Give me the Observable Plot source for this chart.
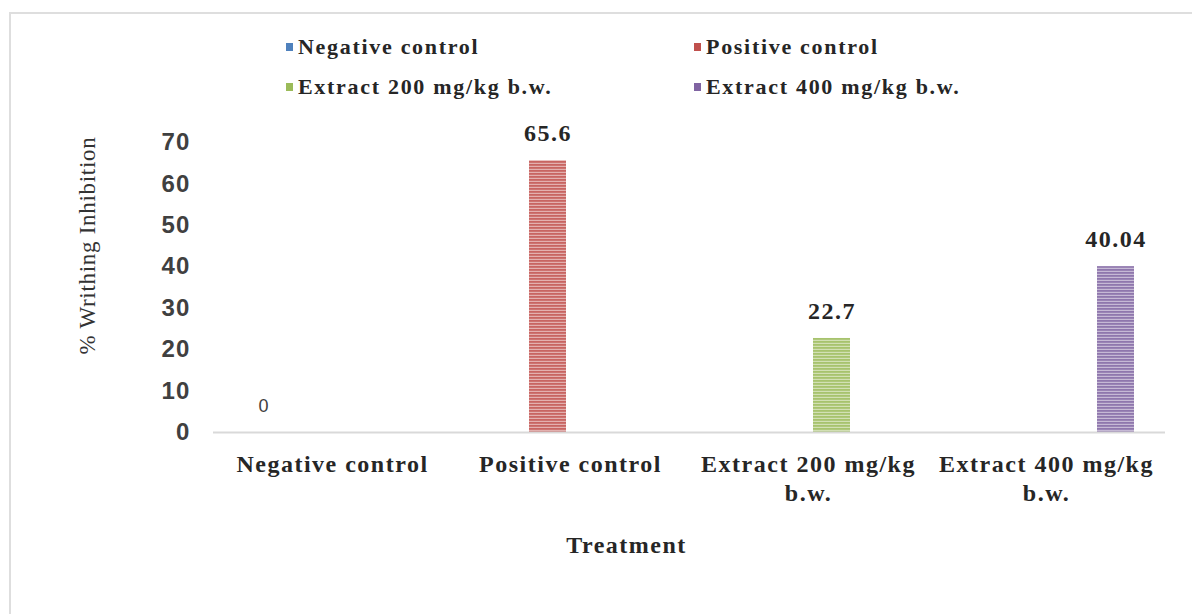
<!DOCTYPE html>
<html>
<head>
<meta charset="utf-8">
<script src="https://cdn.jsdelivr.net/npm/d3@7"></script>
<script src="https://cdn.jsdelivr.net/npm/@observablehq/plot@0.6"></script>
<style>
  html, body { margin: 0; padding: 0; background: #fff; }
  body { width: 1192px; height: 614px; position: relative; overflow: hidden; }
  .frame { position: absolute; left: 9px; top: 12px; width: 1250px; height: 700px;
           border-top: 2px solid #dedede; border-left: 2px solid #dedede; }
  .legend { position: absolute; left: 0; top: 0; width: 1192px; height: 110px;
            font-family: "Liberation Serif", "Times New Roman", serif; font-weight: bold;
            font-size: 22px; letter-spacing: 1.7px; color: #262626; }
  .legend .item { position: absolute; display: flex; align-items: center; white-space: nowrap; height: 24px; }
  .legend .sw { width: 7px; height: 8px; margin-right: 5px; flex: none; }
  #chart { position: absolute; left: 0; top: 110px; }
</style>
</head>
<body>
<div class="frame"></div>
<div class="legend" id="legend"></div>
<div id="chart"></div>
<script>
// Treatments, one bar each
const treatments = ["Negative control", "Positive control", "Extract 200 mg/kg b.w.", "Extract 400 mg/kg b.w."];
// % writhing inhibition per treatment
const inhibition = [0, 65.6, 22.7, 40.04];
// Category tick labels (wrapped)
const tickLabels = ["Negative control", "Positive control", "Extract 200 mg/kg\nb.w.", "Extract 400 mg/kg\nb.w."];
// Y axis ticks
const yTicks = [0, 10, 20, 30, 40, 50, 60, 70];
// Series colours
const seriesColors = ["#4f81bd", "#c0504d", "#9bbb59", "#8064a2"];

const rows = treatments.map((t, i) => ({treatment: t, series: t, value: inhibition[i]}));
const patternIds = seriesColors.map((c, i) => `stripes-${i}`);

// Legend (two columns, two rows)
const legendPos = [[286, 35], [694, 35], [286, 75], [694, 75]];
const legend = document.getElementById("legend");
treatments.forEach((t, i) => {
  const item = document.createElement("div");
  item.className = "item";
  item.style.left = legendPos[i][0] + "px";
  item.style.top = legendPos[i][1] + "px";
  const sw = document.createElement("span");
  sw.className = "sw";
  sw.style.background = seriesColors[i];
  item.appendChild(sw);
  item.appendChild(document.createTextNode(t));
  legend.appendChild(item);
});

const serif = "Liberation Serif, Times New Roman, serif";
const sans = "Liberation Sans, Arial, sans-serif";

const chart = Plot.plot({
  width: 1192,
  height: 504,
  marginLeft: 213,
  marginRight: 27,
  marginTop: 32,
  marginBottom: 182,
  fx: {domain: treatments, padding: 0, axis: null},
  x: {domain: treatments, paddingInner: 0.2, paddingOuter: 0.66, axis: null},
  y: {domain: [0, 70], axis: null},
  color: {type: "ordinal", domain: treatments, range: patternIds.map(id => `url(#${id})`)},
  marks: [
    Plot.barY(rows, {fx: "treatment", x: "series", y: "value", fill: "series"}),
    // baseline, repeated in each facet so it runs across the whole frame
    Plot.ruleY([0], {stroke: "#d9d9d9", strokeWidth: 2}),
    Plot.axisY({
      ticks: yTicks, tickSize: 0, tickPadding: 23, label: null,
      fontFamily: sans, fontSize: 24, fontWeight: "bold", fill: "#404040"
    }),
    Plot.axisFx({
      anchor: "bottom", tickSize: 0, tickPadding: 19, label: null,
      tickFormat: d => tickLabels[treatments.indexOf(d)],
      fontFamily: serif, fontSize: 24, fontWeight: "bold", fill: "#262626", lineHeight: 1.2
    }),
    // value labels above bars
    Plot.text(rows.filter(d => d.value !== 0), {
      fx: "treatment", x: "series", y: "value", text: d => String(d.value),
      dy: -27, fontFamily: serif, fontSize: 24, fontWeight: "bold", fill: "#262626"
    }),
    Plot.text(rows.filter(d => d.value === 0), {
      fx: "treatment", x: "series", y: "value", text: d => String(d.value),
      dy: -26, fontFamily: sans, fontSize: 18, fill: "#404040"
    }),
    // axis titles
    Plot.text(["Treatment"], {
      frameAnchor: "bottom", dx: -63, dy: 120, facet: "super",
      fontFamily: serif, fontSize: 24, fontWeight: "bold", fill: "#262626"
    }),
    Plot.text(["% Writhing Inhibition"], {
      frameAnchor: "left", textAnchor: "middle", dx: -126, dy: -42, rotate: -90, facet: "super",
      fontFamily: "Liberation Serif, Times New Roman, serif ", fontSize: 23, fill: "#333333"
    })
  ]
});

// Horizontal stripe fills for the bars
const defs = d3.select(chart).insert("defs", ":first-child");
seriesColors.forEach((c, i) => {
  const p = defs.append("pattern")
    .attr("id", patternIds[i])
    .attr("patternUnits", "userSpaceOnUse")
    .attr("width", 6).attr("height", 3);
  p.append("rect").attr("width", 6).attr("height", 3).attr("fill", d3.interpolateRgb(c, "#fff")(0.55));
  p.append("rect").attr("width", 6).attr("height", 1.8).attr("fill", d3.interpolateRgb(c, "#fff")(0.12));
});

// letter tracking: wide on the bold serif labels, light elsewhere
d3.select(chart).selectAll("text").style("letter-spacing", function () {
  const g = this.closest("[font-family]");
  const fam = g ? g.getAttribute("font-family") : "";
  if (/serif $/.test(fam)) return "0.7px";
  return /Serif/.test(fam) ? "1.5px" : "1.2px";
});

document.getElementById("chart").appendChild(chart);
</script>
</body>
</html>
